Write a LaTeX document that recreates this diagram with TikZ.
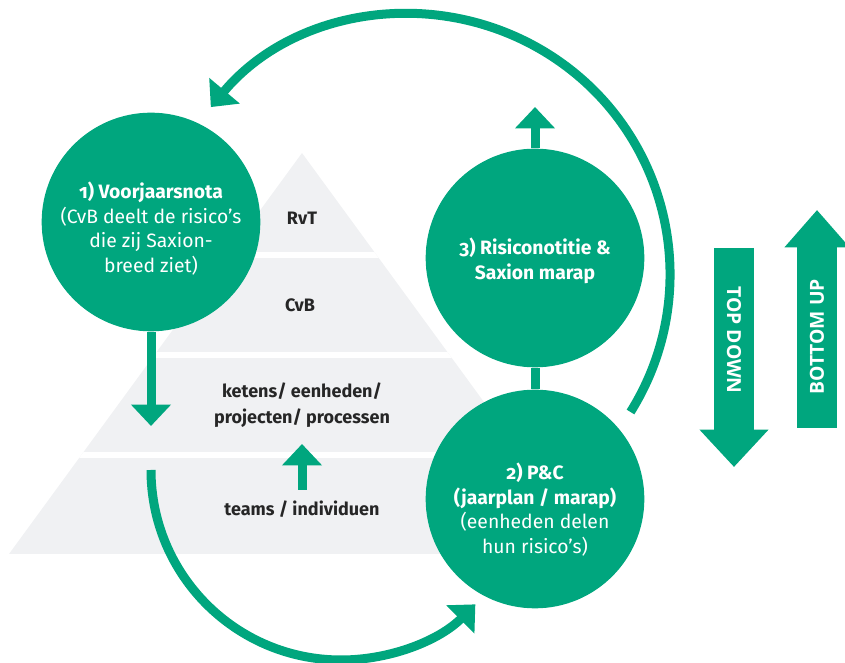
\documentclass[tikz,border=0pt]{standalone}
\usepackage{fontspec}
\setmainfont{Fira Sans}[Numbers=OldStyle]
\newfontfamily\arrowfont{Open Sans}
\usetikzlibrary{arrows.meta,positioning}
\definecolor{sxgreen}{RGB}{0,166,126}
\definecolor{pyrgray}{RGB}{240,241,243}
\definecolor{txtdark}{RGB}{38,38,38}

\begin{document}
\begin{tikzpicture}[x=0.75pt,y=0.75pt,
    phase/.style={circle, fill=sxgreen, minimum size=164pt, inner sep=0pt},
    phasetext/.style={text=white, align=center, font=\fontsize{14.5}{18.5}\selectfont},
    layer/.style={text=txtdark, align=center, font=\bfseries\fontsize{13.5}{19.5}\selectfont},
    flow/.style={draw=sxgreen, line width=6.75pt, -{Triangle[width=29pt,length=16pt]}},
    bigflow/.style={draw=sxgreen, line width=30pt, -{Triangle[width=#1,length=28pt]}},
    bigtext/.style={text=white, font=\arrowfont\bfseries\fontsize{14.5}{16}\selectfont}]
    \useasboundingbox (0,0) rectangle (845,663);

    % pyramid
    \begin{scope}
        \clip (9,109) -- (302,510) -- (595,109) -- cycle;
        \fill[pyrgray] (0,100) rectangle (600,520);
        \foreach \yy in {408,307.5,208}
            \draw[white, line width=4.5pt] (0,\yy) -- (600,\yy);
    \end{scope}
    \node[layer] (rvt) at (302,445) {RvT};
    \node[layer] (cvb) at (300,358) {CvB};
    \node[layer] (ketens) at (302,258) {ketens/ eenheden/\\projecten/ processen};
    \node[layer] (teams) at (302,154) {teams / individuen};

    % the three steps
    \node[phase] (vjn) at (151,441) {};
    \node[phase] (rn) at (535,405) {};
    \node[phase] (pc) at (535,164) {};
    \node[phasetext] (vjntext) at ([yshift=-5pt]vjn.center)
        {\textbf{1) Voorjaarsnota}\\(CvB deelt de risico’s\\die zij Saxion-\\breed ziet)};
    \node[phasetext] (rntext) at ([yshift=-2pt]rn.center)
        {\textbf{3) Risiconotitie \&}\\\textbf{Saxion marap}};
    \node[phasetext] (pctext) at ([yshift=-8pt]pc.center)
        {\textbf{2) P\&C}\\\textbf{(jaarplan / marap)}\\(eenheden delen\\hun risico’s)};

    % connectors
    \coordinate (downtip) at (151,237);
    \coordinate (lowstart) at (151,193);
    \coordinate (topstart) at (630.5,251);
    \coordinate (rntip) at (535,556);
    \coordinate (upstart) at (302,173);
    \coordinate (uptip) at (302,219);
    \draw[flow] (vjn.south) -- (downtip);
    \draw[flow] (lowstart) arc[start angle=180, end angle=315, radius=190];
    \draw[flow] (topstart) arc[start angle=-32, end angle=140, radius=260];
    \draw[flow] (rn.north) -- (rntip);
    \draw[flow] (upstart) -- (uptip);
    \draw[sxgreen, line width=6.75pt] (rn.south) -- (pc.north);

    % top down / bottom up
    \coordinate (tdtop) at (734,415);
    \coordinate (tdtip) at (734,196);
    \coordinate (bubot) at (817,235);
    \coordinate (butip) at (817,453);
    \draw[bigflow=50pt] (tdtop) -- (tdtip);
    \draw[bigflow=47pt] (bubot) -- (butip);
    \node[bigtext, rotate=-90] (td) at (734,323) {TOP DOWN};
    \node[bigtext, rotate=90] (bu) at (817,326) {BOTTOM UP};
\end{tikzpicture}
\end{document}
